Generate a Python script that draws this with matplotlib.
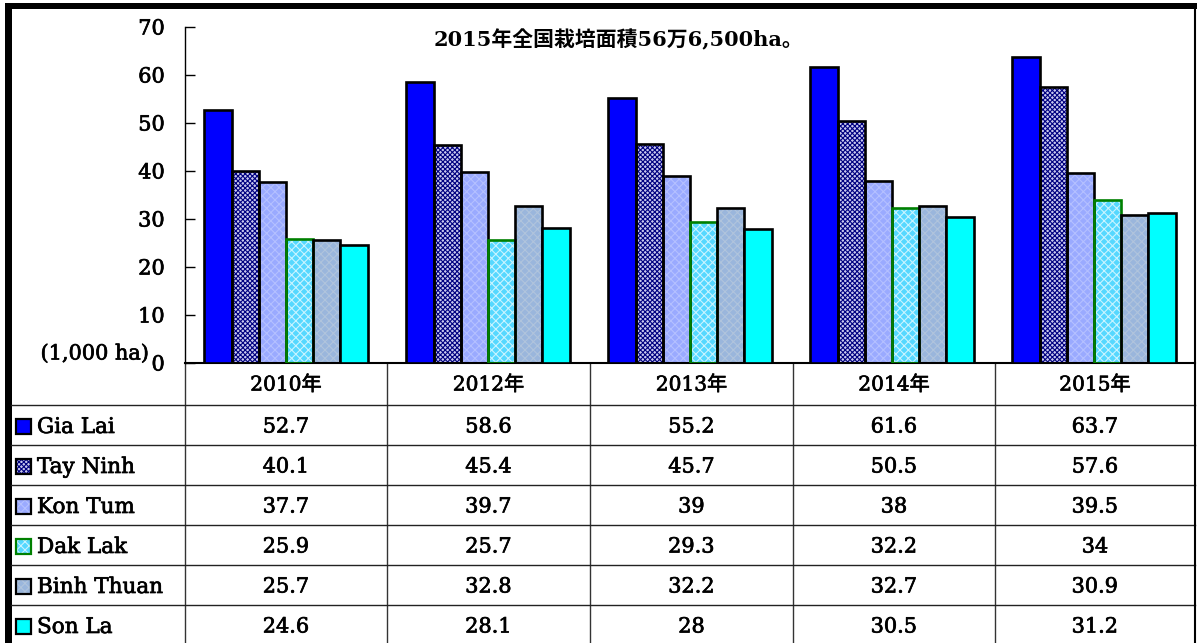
import matplotlib
matplotlib.use("Agg")
import matplotlib.pyplot as plt
from matplotlib.patches import Rectangle
import matplotlib.patheffects as pe
import numpy as np

years = ["2010年", "2012年", "2013年", "2014年", "2015年"]
provinces = ["Gia Lai", "Tay Ninh", "Kon Tum", "Dak Lak", "Binh Thuan", "Son La"]
gia_lai = [52.7, 58.6, 55.2, 61.6, 63.7]
tay_ninh = [40.1, 45.4, 45.7, 50.5, 57.6]
kon_tum = [37.7, 39.7, 39, 38, 39.5]
dak_lak = [25.9, 25.7, 29.3, 32.2, 34]
binh_thuan = [25.7, 32.8, 32.2, 32.7, 30.9]
son_la = [24.6, 28.1, 28, 30.5, 31.2]
value_labels = [
    ["52.7", "58.6", "55.2", "61.6", "63.7"],
    ["40.1", "45.4", "45.7", "50.5", "57.6"],
    ["37.7", "39.7", "39", "38", "39.5"],
    ["25.9", "25.7", "29.3", "32.2", "34"],
    ["25.7", "32.8", "32.2", "32.7", "30.9"],
    ["24.6", "28.1", "28", "30.5", "31.2"],
]
yticks = [0, 10, 20, 30, 40, 50, 60, 70]
title = "2015年全国栽培面積56万6,500ha。"
unit_label = "(1,000 ha)"

series = [gia_lai, tay_ninh, kon_tum, dak_lak, binh_thuan, son_la]
# style: facecolor, hatch, hatchcolor, edgecolor
styles = [
    ("#0000ff", None, None, "black"),
    ("#c8c8ee", "xxxxxxx", "#000080", "black"),
    ("#9aaaff", "xxxx", "#b4c0ff", "black"),
    ("#55d8ff", "xxxx", "#c8f4ff", "#008000"),
    ("#9ab6dc", "xxxx", "#b0c4dc", "black"),
    ("#00ffff", None, None, "black"),
]

serif = ["DejaVu Serif", "Noto Sans CJK JP"]
plt.rcParams["hatch.linewidth"] = 0.8
heavy = [pe.withStroke(linewidth=0.5, foreground="black")]

W, H = 1197, 643
fig = plt.figure(figsize=(W / 100, H / 100), dpi=100)

# overlay axes in pixel coordinates
ov = fig.add_axes([0, 0, 1, 1])
ov.set_xlim(0, W)
ov.set_ylim(H, 0)
ov.axis("off")

x_axis_left, x_axis_right = 185, 1195
y_top, y_base = 27, 363
ax = fig.add_axes([x_axis_left / W, (H - y_base) / H,
                   (x_axis_right - x_axis_left) / W, (y_base - y_top) / H])
ax.set_facecolor("none")

n = len(years)
x = np.arange(n)
bw = 0.1345
for k, (vals, st) in enumerate(zip(series, styles)):
    fc, hatch, hc, ec = st
    pos = x - 2.5 * bw + k * bw
    if hatch:
        ax.bar(pos, vals, width=bw, color=fc, edgecolor=hc, hatch=hatch,
               linewidth=0, zorder=2)
        ax.bar(pos, vals, width=bw, color="none", edgecolor=ec,
               linewidth=1.9, zorder=3)
    else:
        ax.bar(pos, vals, width=bw, color=fc, edgecolor=ec,
               linewidth=1.9, zorder=3)

ax.set_xlim(-0.5, n - 0.5)
ax.set_ylim(0, 70)
ax.set_yticks(yticks)
ax.set_yticklabels([str(t) for t in yticks], family=serif, fontsize=15)
for t in ax.get_yticklabels():
    t.set_path_effects(heavy)
ax.tick_params(axis="y", direction="in", length=7, width=1, pad=14.5)
ax.set_xticks(np.arange(n + 1) - 0.5)
ax.set_xticklabels([])
ax.tick_params(axis="x", direction="in", length=0)
for s in ["top", "right"]:
    ax.spines[s].set_visible(False)
ax.spines["left"].set_linewidth(1)
ax.spines["bottom"].set_linewidth(1.5)

# title
ov.text(618, 40, title, family=serif, fontsize=15, fontweight="bold",
        ha="center", va="center")
ov.text(95, 354, unit_label, family=serif, fontsize=15, ha="center",
        va="center", path_effects=heavy)

# table
col_edges = [185, 387, 590, 793, 995, 1195]
row_edges = [363, 405, 445, 485, 525, 565, 605, 645]
for xe in col_edges[:-1]:
    ov.plot([xe, xe], [363, H], color="#333333", lw=1)
for ye in row_edges[1:-1]:
    ov.plot([11, 1195], [ye, ye], color="#222222", lw=1)
for j, yl in enumerate(years):
    cx = (col_edges[j] + col_edges[j + 1]) / 2
    ov.text(cx, 385, yl, family=serif, fontsize=14.5, ha="center",
            va="center", path_effects=heavy)
for i, prov in enumerate(provinces):
    cy = (row_edges[i + 1] + row_edges[i + 2]) / 2 + 2
    fc, hatch, hc, ec = styles[i]
    if hatch:
        ov.add_patch(Rectangle((16, cy - 8), 15, 15, facecolor=fc, edgecolor=hc,
                               hatch=hatch, lw=0))
        ov.add_patch(Rectangle((16, cy - 8), 15, 15, facecolor="none",
                               edgecolor=ec, lw=1.6))
    else:
        ov.add_patch(Rectangle((16, cy - 8), 15, 15, facecolor=fc,
                               edgecolor=ec, lw=1.6))
    ov.text(37, cy, prov, family=serif, fontsize=15.5, ha="left",
            va="center", path_effects=heavy)
    for j in range(n):
        cx = (col_edges[j] + col_edges[j + 1]) / 2
        ov.text(cx, cy, value_labels[i][j], family=serif, fontsize=15,
                ha="center", va="center", path_effects=heavy)

# borders
ov.add_patch(Rectangle((5, 3), W - 5, 6, facecolor="black", edgecolor="none"))
ov.add_patch(Rectangle((5, 3), 6.5, H - 3, facecolor="black", edgecolor="none"))
ov.plot([1195, 1195], [8, H], color="black", lw=1.5)

fig.savefig("out.png", dpi=100)
